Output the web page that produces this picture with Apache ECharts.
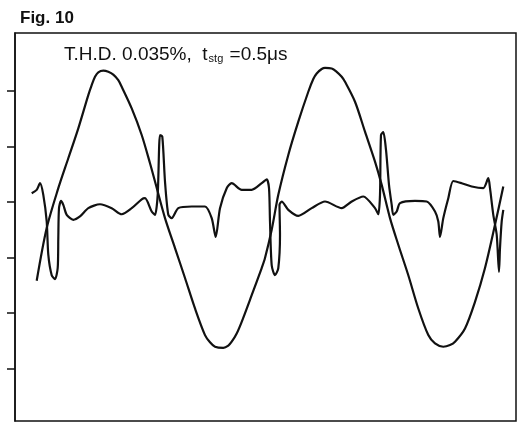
<!DOCTYPE html>
<html>
<head>
<meta charset="utf-8">
<script src="https://cdn.jsdelivr.net/npm/echarts@6/dist/echarts.min.js"></script>
<style>
  html, body { margin: 0; padding: 0; background: #fff; }
  #chart { width: 520px; height: 423px; }
</style>
</head>
<body>
<div id="chart"></div>
<script>
// x: time (arbitrary units), y: divisions from the centre tick
const sineX = [21.7, 31.7, 43.3, 53.3, 63.3, 73.3, 76.7, 80, 83.3, 88.3, 93.3, 98.3, 103.3, 106.7, 116.7, 126.7, 135, 140, 150, 160, 170, 180, 190, 195, 200, 208.3, 213.3, 216.7, 221.7, 226.7, 236.7, 246.7, 250, 256.7, 263.3, 273.3, 283.3, 293.3, 298.3, 301.7, 306.7, 310, 316.7, 321.7, 326.7, 330, 340, 350, 360, 366.7, 375, 383.3, 393.3, 403.3, 413.3, 420, 428.3, 435, 440, 450, 460, 470, 480, 488.3]
const sineY = [-1.42, -0.47, 0.25, 0.79, 1.33, 1.93, 2.11, 2.26, 2.34, 2.37, 2.35, 2.30, 2.20, 2.08, 1.69, 1.21, 0.70, 0.37, -0.29, -0.83, -1.37, -1.92, -2.40, -2.53, -2.61, -2.63, -2.59, -2.52, -2.37, -2.16, -1.68, -1.19, -1.01, -0.50, 0.13, 0.85, 1.45, 1.99, 2.22, 2.32, 2.40, 2.42, 2.41, 2.35, 2.26, 2.17, 1.81, 1.27, 0.73, 0.31, -0.29, -0.77, -1.32, -1.92, -2.40, -2.55, -2.61, -2.58, -2.52, -2.28, -1.80, -1.19, -0.41, 0.28]

// distortion residual
const distX = [16.7, 21.7, 25, 28.3, 31.7, 33.3, 36.7, 40, 42.7, 43.3, 44, 46, 48.3, 51.7, 58.3, 65, 73.3, 85, 96.7, 106.7, 116.7, 126.7, 130, 136.7, 140, 142.7, 145, 147.3, 150, 153.3, 156.7, 163.3, 176.7, 190, 196.7, 200.7, 205, 211.7, 216.7, 226.7, 236.7, 246.7, 251.7, 254, 255, 256.7, 260, 263.3, 265, 264.5, 266.7, 273.3, 283.3, 296.7, 310, 326.7, 336.7, 348.3, 360, 363.3, 365, 366, 368.3, 371, 374, 376.7, 378.3, 381.7, 385, 400, 411.7, 420, 423.3, 425, 428.3, 433.3, 438.3, 446.7, 456.7, 468.3, 473.3, 475, 478.3, 481.7, 484, 485, 486.7, 488.3]
const distY = [0.16, 0.22, 0.34, 0.13, -0.35, -0.95, -1.32, -1.39, -1.19, -0.65, -0.11, 0.02, -0.05, -0.23, -0.32, -0.26, -0.11, -0.04, -0.11, -0.22, -0.11, 0.05, 0.07, -0.17, -0.23, 0.13, 1.21, 1.18, 0.37, -0.23, -0.29, -0.11, -0.08, -0.08, -0.29, -0.63, -0.11, 0.25, 0.34, 0.22, 0.22, 0.34, 0.41, 0.25, -0.35, -1.14, -1.32, -1.19, -0.59, -0.05, 0.01, -0.14, -0.25, -0.11, 0.01, -0.11, 0.01, 0.10, -0.11, -0.22, 0.13, 1.21, 1.26, 0.94, 0.31, -0.05, -0.23, -0.17, -0.02, 0.02, 0.01, -0.17, -0.35, -0.63, -0.29, 0.07, 0.38, 0.34, 0.28, 0.25, 0.43, 0.25, -0.23, -0.59, -1.26, -0.83, -0.35, -0.14]

const yTicks = [-3, -2, -1, 0, 1, 2]

function pairs(xs, ys) {
  return xs.map((x, i) => [x, ys[i]])
}

const chart = echarts.init(document.getElementById('chart'))
const ink = '#111'

chart.setOption({
  animation: false,
  title: [
    {
      text: 'Fig. 10',
      left: 15,
      top: 5,
      textStyle: { fontFamily: 'Liberation Sans', fontWeight: 'bold', fontSize: 17, color: ink }
    },
    {
      // subscript "stg" kept as rich text
      text: '{a|T.H.D. 0.035%,  t}{b|stg}{a| =0.5μs}',
      left: 59,
      top: 40,
      textStyle: {
        fontWeight: 'normal',
        rich: {
          a: { fontFamily: 'Liberation Sans', fontWeight: 'normal', fontSize: 19, color: ink },
          b: { fontFamily: 'Liberation Sans', fontWeight: 'normal', fontSize: 11, color: ink, verticalAlign: 'bottom', padding: [0, 1, 0, 1] }
        }
      }
    }
  ],
  grid: {
    left: 15,
    right: 4,
    top: 33,
    bottom: 2,
    show: true,
    borderColor: ink,
    borderWidth: 1.5
  },
  xAxis: {
    type: 'value',
    min: 0,
    max: 501,
    axisLine: { show: false },
    axisTick: { show: false },
    axisLabel: { show: false },
    splitLine: { show: false }
  },
  yAxis: {
    type: 'value',
    min: -3.95,
    max: 3.05,
    axisLine: { show: true, lineStyle: { color: ink, width: 1.5 } },
    axisTick: { show: true, inside: false, length: 8, customValues: yTicks, lineStyle: { color: ink, width: 1.5 } },
    axisLabel: { show: false },
    splitLine: { show: false }
  },
  series: [
    {
      type: 'line',
      data: pairs(sineX, sineY),
      smooth: 0.3,
      symbol: 'none',
      lineStyle: { color: ink, width: 2.2 }
    },
    {
      type: 'line',
      data: pairs(distX, distY),
      smooth: 0.25,
      symbol: 'none',
      lineStyle: { color: ink, width: 2.2 }
    }
  ]
})
</script>
</body>
</html>
